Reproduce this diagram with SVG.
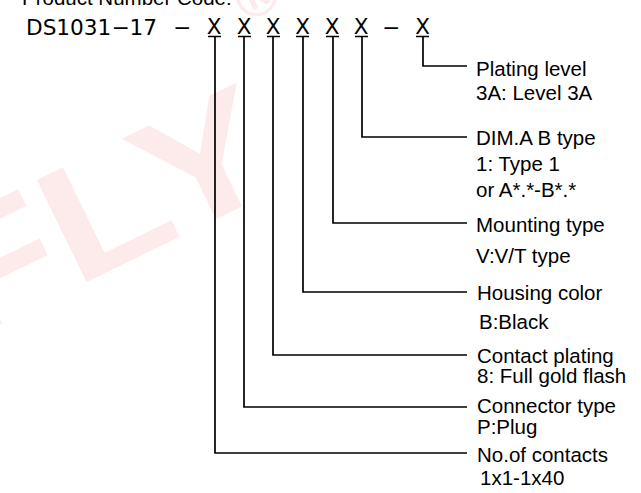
<svg xmlns="http://www.w3.org/2000/svg" width="641" height="493" viewBox="0 0 641 493">
<style>
.lbl{font-family:"Liberation Sans",Arial,sans-serif;font-size:20.5px;fill:#000}
.code{font-family:"DejaVu Sans",sans-serif;font-size:21.5px;fill:#000}
.ln{fill:none;stroke:#000;stroke-width:1.7}
.wm{font-family:"Liberation Sans",Arial,sans-serif;font-weight:bold;fill:#fdeaea}
</style>
<rect width="641" height="493" fill="#fff"/>
<g id="watermark">
<text class="wm" font-size="165" transform="translate(-36,342) rotate(-26) scale(1.22,1)">FLY</text>
<text class="wm" font-size="58" font-weight="normal" transform="translate(256,-4) rotate(-26) translate(-21,20)">®</text>
</g>
<g id="title">
<text class="lbl" x="22" y="5">Product Number Code:</text>
</g>
<g id="code">
<text class="code" x="26" y="35" textLength="131" lengthAdjust="spacingAndGlyphs">DS1031−17</text>
<text class="code" x="182" y="35" text-anchor="middle">−</text>
<text class="code" x="214" y="34" text-anchor="middle">X</text>
<text class="code" x="244" y="34" text-anchor="middle">X</text>
<text class="code" x="273" y="34" text-anchor="middle">X</text>
<text class="code" x="302.5" y="34" text-anchor="middle">X</text>
<text class="code" x="332" y="34" text-anchor="middle">X</text>
<text class="code" x="361" y="34" text-anchor="middle">X</text>
<text class="code" x="391" y="35" text-anchor="middle">−</text>
<text class="code" x="422.5" y="34" text-anchor="middle">X</text>
</g>
<g id="connectors">
<path class="ln" d="M208,36.5H221M215,36.5V453H467"/>
<path class="ln" d="M238,36.5H251M244,36.5V407H467"/>
<path class="ln" d="M267,36.5H280M273,36.5V355H467"/>
<path class="ln" d="M296,36.5H309M303,36.5V292H467"/>
<path class="ln" d="M326,36.5H339M333,36.5V223H467"/>
<path class="ln" d="M355,36.5H368M362,36.5V137H467"/>
<path class="ln" d="M416,36.5H429M423,36.5V66H467"/>
</g>
<g id="plating-level">
<text class="lbl" x="476" y="76">Plating level</text>
<text class="lbl" x="476" y="100">3A: Level 3A</text>
</g>
<g id="dim-ab-type">
<text class="lbl" x="476" y="145">DIM.A B type</text>
<text class="lbl" x="476" y="171">1: Type 1</text>
<text class="lbl" x="476" y="197">or A*.*-B*.*</text>
</g>
<g id="mounting-type">
<text class="lbl" x="476" y="232">Mounting type</text>
<text class="lbl" x="476" y="263">V:V/T type</text>
</g>
<g id="housing-color">
<text class="lbl" x="477" y="300">Housing color</text>
<text class="lbl" x="479" y="329">B:Black</text>
</g>
<g id="contact-plating">
<text class="lbl" x="477" y="363">Contact plating</text>
<text class="lbl" x="477" y="383">8: Full gold flash</text>
</g>
<g id="connector-type">
<text class="lbl" x="477" y="413">Connector type</text>
<text class="lbl" x="477" y="434">P:Plug</text>
</g>
<g id="no-of-contacts">
<text class="lbl" x="477" y="462">No.of contacts</text>
<text class="lbl" x="480" y="485">1x1-1x40</text>
</g>
</svg>
